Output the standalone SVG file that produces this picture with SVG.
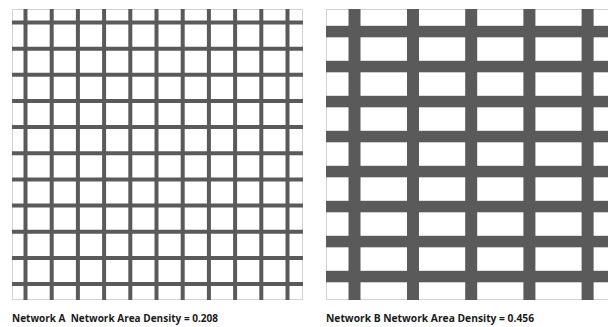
<svg xmlns="http://www.w3.org/2000/svg" width="608" height="327" viewBox="0 0 608 327">
<style>
.frame{fill:#fff;stroke:#d2d2d2;stroke-width:1}
.a{stroke:#5a5a5a;stroke-width:4}
.b{fill:#5a5a5a}
.lbl{font-family:"Open Sans","Liberation Sans",sans-serif;font-weight:bold;font-size:10.5px;fill:#1a1a1a}
</style>
<defs>
<clipPath id="clipA"><rect x="12" y="9" width="291" height="291"/></clipPath>
<clipPath id="clipB"><rect x="326" y="9" width="291" height="291"/></clipPath>
</defs>
<rect width="608" height="327" fill="#fff"/>
<g id="networkA">
<rect class="frame" x="12.5" y="9.5" width="290" height="290"/>
<g clip-path="url(#clipA)" class="a">
<line x1="25.5" y1="9" x2="25.5" y2="300"/>
<line x1="51.7" y1="9" x2="51.7" y2="300"/>
<line x1="77.9" y1="9" x2="77.9" y2="300"/>
<line x1="104.1" y1="9" x2="104.1" y2="300"/>
<line x1="130.3" y1="9" x2="130.3" y2="300"/>
<line x1="156.5" y1="9" x2="156.5" y2="300"/>
<line x1="182.7" y1="9" x2="182.7" y2="300"/>
<line x1="208.9" y1="9" x2="208.9" y2="300"/>
<line x1="235.1" y1="9" x2="235.1" y2="300"/>
<line x1="261.3" y1="9" x2="261.3" y2="300"/>
<line x1="287.5" y1="9" x2="287.5" y2="300"/>
<line x1="12" y1="22.5" x2="303" y2="22.5"/>
<line x1="12" y1="48.7" x2="303" y2="48.7"/>
<line x1="12" y1="74.8" x2="303" y2="74.8"/>
<line x1="12" y1="101" x2="303" y2="101"/>
<line x1="12" y1="127.1" x2="303" y2="127.1"/>
<line x1="12" y1="153.3" x2="303" y2="153.3"/>
<line x1="12" y1="179.4" x2="303" y2="179.4"/>
<line x1="12" y1="205.6" x2="303" y2="205.6"/>
<line x1="12" y1="231.7" x2="303" y2="231.7"/>
<line x1="12" y1="257.9" x2="303" y2="257.9"/>
<line x1="12" y1="284" x2="303" y2="284"/>
</g>
<text class="lbl" x="12" y="322" textLength="206" lengthAdjust="spacingAndGlyphs" xml:space="preserve">Network A  Network Area Density = 0.208</text>
</g>
<g id="networkB">
<rect class="frame" x="326.5" y="9.5" width="290" height="290"/>
<g clip-path="url(#clipB)" class="b">
<rect x="348.5" y="9" width="12" height="291"/>
<rect x="407" y="9" width="12" height="291"/>
<rect x="465.2" y="9" width="12" height="291"/>
<rect x="523.4" y="9" width="12" height="291"/>
<rect x="581.6" y="9" width="12" height="291"/>
<rect x="326" y="25.8" width="291" height="11.5"/>
<rect x="326" y="60.8" width="291" height="11.5"/>
<rect x="326" y="95.8" width="291" height="11.5"/>
<rect x="326" y="130.8" width="291" height="11.5"/>
<rect x="326" y="165.8" width="291" height="11.5"/>
<rect x="326" y="200.8" width="291" height="11.5"/>
<rect x="326" y="235.8" width="291" height="11.5"/>
<rect x="326" y="270.8" width="291" height="11.5"/>
</g>
<text class="lbl" x="326" y="322" textLength="208" lengthAdjust="spacingAndGlyphs">Network B Network Area Density = 0.456</text>
</g>
</svg>
